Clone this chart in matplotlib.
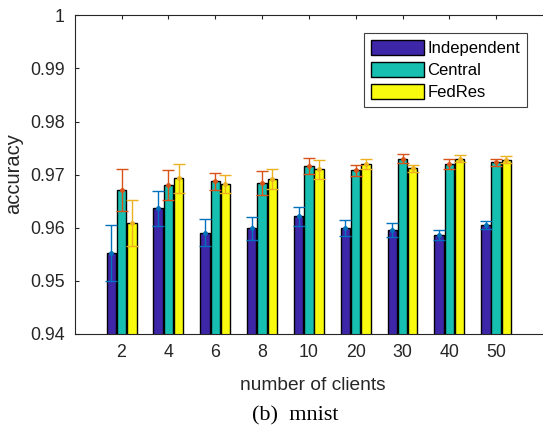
import numpy as np
import matplotlib
matplotlib.use("Agg")
import matplotlib.pyplot as plt

categories = ["2", "4", "6", "8", "10", "20", "30", "40", "50"]
series_names = ["Independent", "Central", "FedRes"]
independent = [0.9552, 0.9637, 0.9591, 0.9599, 0.9622, 0.9599, 0.9596, 0.9586, 0.9605]
central = [0.9671, 0.9681, 0.9688, 0.9684, 0.9717, 0.9708, 0.9730, 0.9720, 0.9723]
fedres = [0.9609, 0.9693, 0.9682, 0.9692, 0.9710, 0.9720, 0.9712, 0.9730, 0.9728]
independent_err = [0.0053, 0.0033, 0.0025, 0.0022, 0.0018, 0.0015, 0.0013, 0.0009, 0.0008]
central_err = [0.0039, 0.0028, 0.0016, 0.0022, 0.0015, 0.0011, 0.0008, 0.0009, 0.0007]
fedres_err = [0.0043, 0.0027, 0.0017, 0.0019, 0.0018, 0.0009, 0.0007, 0.0007, 0.0007]
yticks = [0.94, 0.95, 0.96, 0.97, 0.98, 0.99, 1.0]
ytick_labels = ["0.94", "0.95", "0.96", "0.97", "0.98", "0.99", "1"]

bar_colors = ["#3E26A8", "#17BFB1", "#F9FB0E"]
err_colors = ["#0072BD", "#D95319", "#EDB120"]

plt.rcParams["font.family"] = ["Liberation Sans", "DejaVu Sans"]

W, H = 543, 428
fig = plt.figure(figsize=(W / 100, H / 100), dpi=100)
ax_left, ax_bottom_px, ax_top_px = 74.7, 334, 15.3
ax = fig.add_axes([ax_left / W, 1 - ax_bottom_px / H, 1 - ax_left / W,
                   (ax_bottom_px - ax_top_px) / H])
ax_w = W - ax_left
ax_h = ax_bottom_px - ax_top_px

x = np.arange(1, len(categories) + 1)
width = 0.2
offsets = [-0.22, 0.0, 0.22]
values = [independent, central, fedres]
errs = [independent_err, central_err, fedres_err]

for i in range(3):
    ax.bar(x + offsets[i], values[i], width, color=bar_colors[i], edgecolor="black",
           linewidth=1.0, label=series_names[i], zorder=2)
for i in range(3):
    ax.errorbar(x + offsets[i], values[i], yerr=errs[i], fmt="o", color=err_colors[i],
                ecolor=err_colors[i], markersize=2.5, elinewidth=1.0, capsize=4.5,
                capthick=1.0, zorder=3)

ax.set_xlim(0, 10)
ax.set_ylim(0.94, 1.0)
ax.set_xticks(x)
ax.set_xticklabels(categories)
ax.set_yticks(yticks)
ax.set_yticklabels(ytick_labels)

ax.spines["right"].set_visible(False)
for s in ["left", "bottom", "top"]:
    ax.spines[s].set_color("#262626")
    ax.spines[s].set_linewidth(0.8)
ax.tick_params(axis="both", direction="in", length=3, color="#262626",
               labelcolor="#262626", labelsize=12.8, top=True, right=False, pad=7)

ax.set_xlabel("number of clients", fontsize=13.8, color="#262626")
ax.xaxis.set_label_coords((312.5 - ax_left) / ax_w, (ax_bottom_px - 390) / ax_h)
ax.xaxis.label.set_verticalalignment("baseline")

ax.set_ylabel("accuracy", fontsize=14.5, color="#262626")
ax.yaxis.set_label_coords((14 - ax_left) / ax_w, (ax_bottom_px - 173.5) / ax_h)
ax.yaxis.label.set_verticalalignment("center")

leg = ax.legend(loc="upper right", bbox_to_anchor=(527 / W, 1 - 33 / H),
                bbox_transform=fig.transFigure, borderaxespad=0, fontsize=12,
                fancybox=False, framealpha=1, edgecolor="#404040",
                handlelength=3.2, handleheight=1.0, handletextpad=0.2,
                labelspacing=0.35, borderpad=0.4)
leg.get_frame().set_linewidth(0.8)

fig.text(295 / W, 1 - 420.5 / H, "(b)  mnist", ha="center", va="baseline",
         fontsize=16, family=["Liberation Serif", "DejaVu Serif"])

fig.savefig("out.png", dpi=100)
